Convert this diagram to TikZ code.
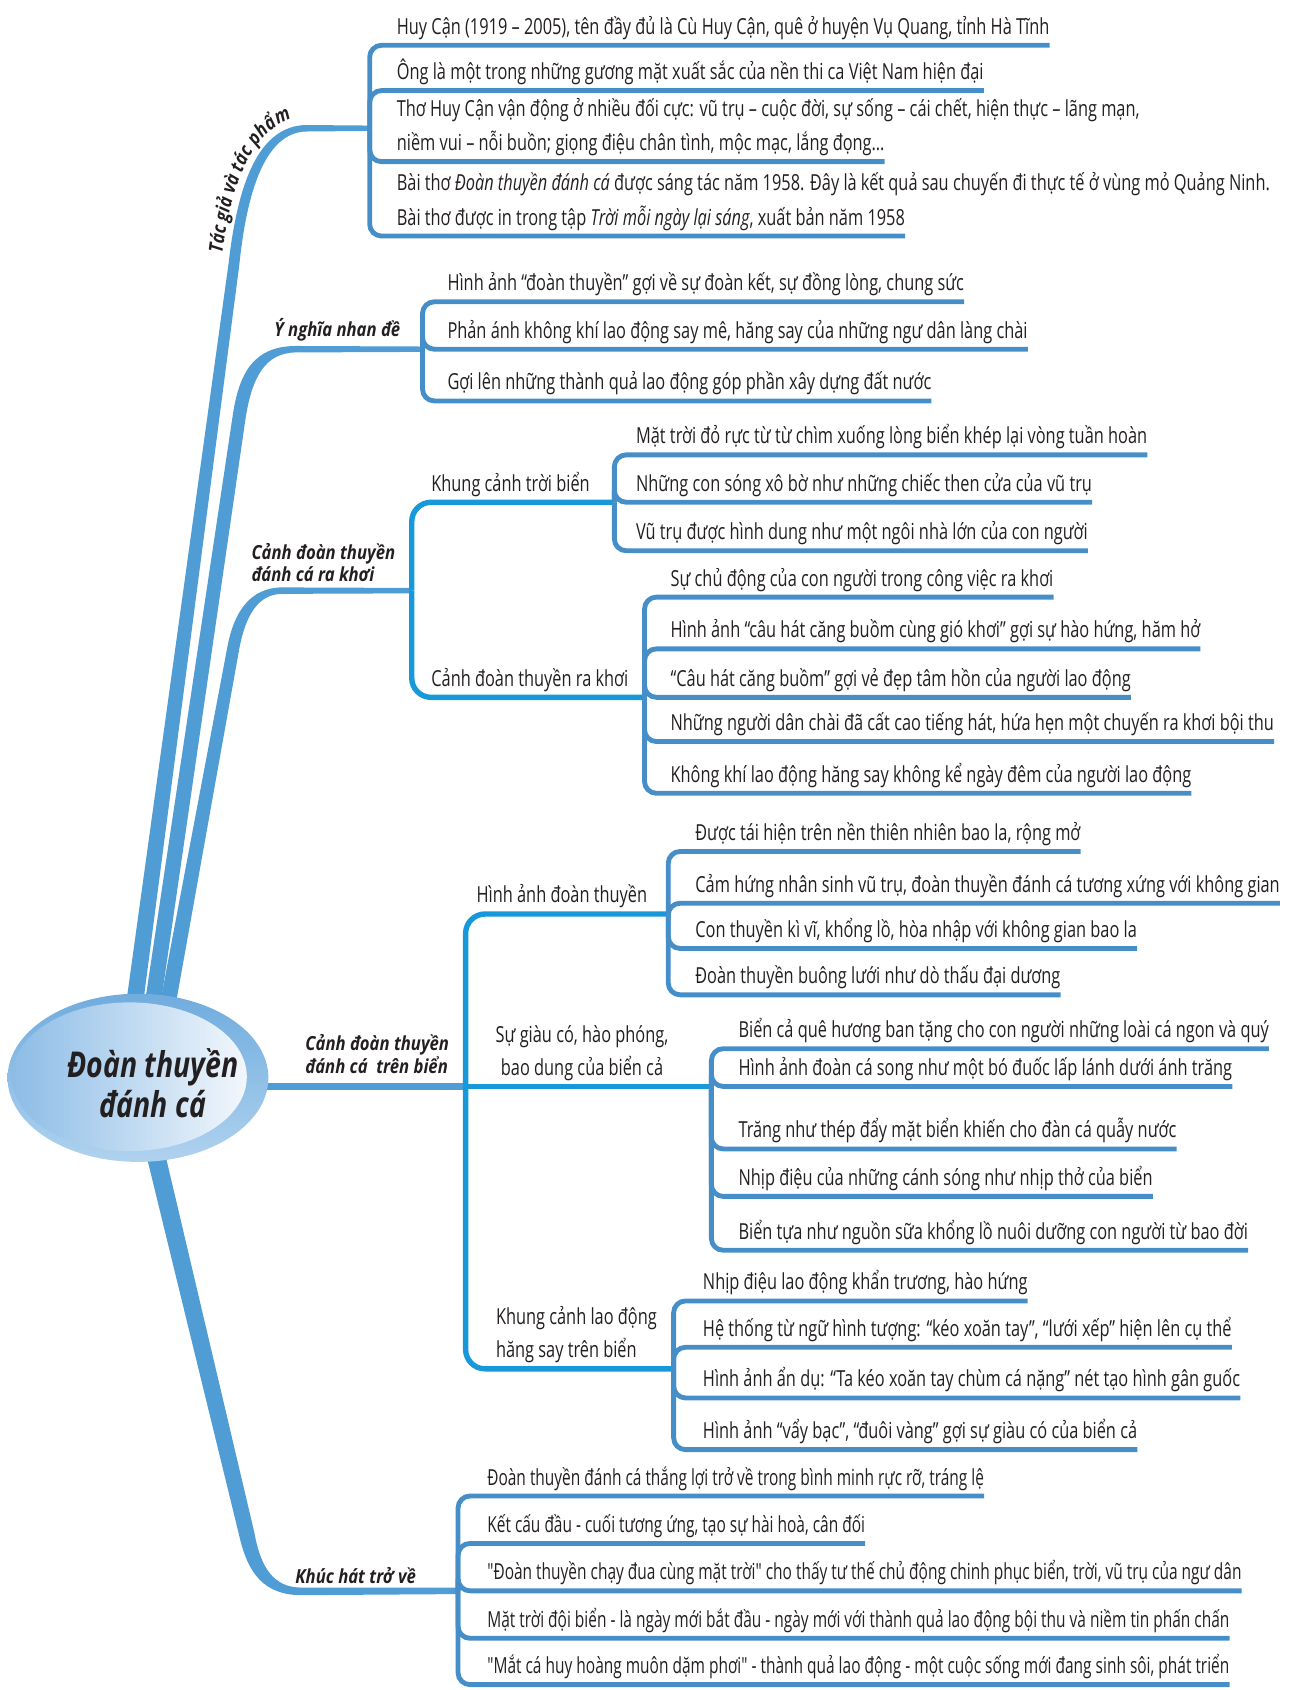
\documentclass[tikz,border=0pt]{standalone}
\usepackage{fontspec}
\setmainfont{Open Sans}[FakeStretch=0.74]
\newfontfamily\narrowfamily{Open Sans}[FakeStretch=0.70]
\newfontfamily\topicfamily{Open Sans}[FakeStretch=0.86]
\newfontfamily\rootfamily{Open Sans}[FakeStretch=0.80]
\usetikzlibrary{
    positioning,
    calc,
    shapes.geometric,
    decorations.text
}
\definecolor{trunkblue}{RGB}{79,157,212}
\definecolor{twigblue}{RGB}{70,142,200}
\definecolor{limbblue}{RGB}{22,152,218}
\definecolor{rimblue}{RGB}{112,172,222}
\definecolor{rimpale}{RGB}{175,210,238}
\definecolor{capblue}{RGB}{140,188,230}
\definecolor{capwhite}{RGB}{242,247,252}
\definecolor{inkblack}{RGB}{35,31,32}
\newcommand{\leaffont}{\fontsize{20.5}{31}\selectfont}
\newcommand{\narrowfont}{\narrowfamily\fontsize{20.5}{31}\selectfont}
\newcommand{\topicfont}{\topicfamily\fontsize{18}{20}\selectfont\bfseries\itshape}
\newcommand{\rootfont}{\rootfamily\fontsize{33}{37}\selectfont\bfseries\itshape}
\tikzset{
    leaf/.style = {anchor=south west, inner xsep=0pt, inner ysep=10pt, text depth=0pt,
                   font=\leaffont, text=inkblack},
    narrowleaf/.style = {leaf, font=\narrowfont},
    topic/.style = {inner sep=0pt, font=\topicfont, text=inkblack, align=left},
    twig/.style = {draw=twigblue, line width=4.5pt, rounded corners=11pt},
    limb/.style = {draw=limbblue, line width=5pt, rounded corners=18pt},
    trunk/.style = {fill=trunkblue},
}

\begin{document}
\begin{tikzpicture}[x=1pt,y=-1pt]
\useasboundingbox (0,0) rectangle (1198,1568);

\coordinate (rootc) at (128,1000);
\coordinate (jtac) at (343,119);
\coordinate (jy) at (392,324);
\coordinate (jra) at (382,548);
\coordinate (jtroi) at (570,466);
\coordinate (jkhoi) at (598,647);
\coordinate (jbien) at (432,1008);
\coordinate (jhinh) at (620,848);
\coordinate (jgiau) at (660,1008);
\coordinate (jlao) at (625,1270);
\coordinate (jve) at (425,1476);

% main branches
\fill[trunk] (113,960) -- (212,245) .. controls (220,175) and (238,116) .. (285,116)
    -- ($(jtac)+(0,-2.5)$) -- ($(jtac)+(0,2.5)$)
    -- (285,122) .. controls (246,122) and (229,178) .. (222,246) -- (129,960) -- cycle;
\fill[trunk] (130,960) -- (216,385) .. controls (222,345) and (236,321) .. (275,321)
    -- ($(jy)+(0,-2.5)$) -- ($(jy)+(0,2.5)$)
    -- (275,327) .. controls (246,327) and (234,350) .. (228,387) -- (145,960) -- cycle;
\fill[trunk] (143,960) -- (211,600) .. controls (217,568) and (232,545) .. (262,545)
    -- ($(jra)+(0,-2.5)$) -- ($(jra)+(0,2.5)$)
    -- (262,551) .. controls (240,551) and (228,570) .. (222,602) -- (158,960) -- cycle;
\fill[trunk] (128,1040) -- (222,1425) .. controls (230,1460) and (245,1480) .. (280,1480)
    -- ($(jve)+(0,3)$) -- ($(jve)+(0,-3)$)
    -- (280,1473) .. controls (254,1473) and (242,1455) .. (236,1422) -- (146,1040) -- cycle;
\draw[trunkblue, line width=6pt] (rootc |- jbien) -- (jbien);

\node[ellipse, minimum width=242pt, minimum height=156pt, inner sep=0pt,
      top color=rimblue, bottom color=rimpale] (root) at (rootc) {};
\node[ellipse, minimum width=218pt, minimum height=138pt, inner sep=0pt,
      left color=capblue, right color=capwhite] (rootcap) at (120,999) {};
\node[font=\rootfont, text=inkblack, align=center] (rootlabel) at (142,1005) {Đoàn thuyền\\đánh cá};

% Tac gia va tac pham
\path[decorate, decoration={text along path, text align=center, raise=2.5pt,
      text={|\topicfont\color{inkblack}|Tác giả và tác phẩm}}]
    (207,254) .. controls (214,174) and (236,110) .. (290,110);
\node[leaf] (tac1) at (368,42) {Huy Cận (1919 – 2005), tên đầy đủ là Cù Huy Cận, quê ở huyện Vụ Quang, tỉnh Hà Tĩnh};
\node[leaf] (tac2) at (368,84) {Ông là một trong những gương mặt xuất sắc của nền thi ca Việt Nam hiện đại};
\node[leaf] (tac3a) at (368,118) {Thơ Huy Cận vận động ở nhiều đối cực: vũ trụ – cuộc đời, sự sống – cái chết, hiện thực – lãng mạn,};
\node[leaf] (tac3) at (368,150) {niềm vui – nỗi buồn; giọng điệu chân tình, mộc mạc, lắng đọng\ldots};
\node[leaf] (tac4a) at (368,187) {Bài thơ \textit{Đoàn thuyền đánh cá} được sáng tác năm 1958. Đây là kết quả sau chuyến đi thực tế ở vùng mỏ Quảng Ninh.};
\node[leaf] (tac4) at (368,219) {Bài thơ được in trong tập \textit{Trời mỗi ngày lại sáng}, xuất bản năm 1958};
\draw[twig] (jtac) |- (tac1.south east);
\draw[twig] (jtac) |- (tac2.south east);
\draw[twig] (jtac) |- (tac3.south east);
\draw[twig] (jtac) |- (tac4.south east);

% Y nghia nhan de
\node[topic] (yngtopic) at (313,306) {Ý nghĩa nhan đề};
\node[leaf] (yng1) at (415,280) {Hình ảnh “đoàn thuyền” gợi về sự đoàn kết, sự đồng lòng, chung sức};
\node[leaf] (yng2) at (415,324) {Phản ánh không khí lao động say mê, hăng say của những ngư dân làng chài};
\node[leaf] (yng3) at (415,372) {Gợi lên những thành quả lao động góp phần xây dựng đất nước};
\draw[twig] (jy) |- (yng1.south east);
\draw[twig] (jy) |- (yng2.south east);
\draw[twig] (jy) |- (yng3.south east);

% Canh doan thuyen ra khoi
\node[topic] (ratopic) at (300,522) {Cảnh đoàn thuyền\\đánh cá ra khơi};
\draw[limb] (jra) |- (jtroi);
\draw[limb] (jra) |- (jkhoi);
\node[leaf] (troi) at (400,466) {Khung cảnh trời biển};
\node[leaf] (khoi) at (400,647) {Cảnh đoàn thuyền ra khơi};
\node[leaf] (troi1) at (590,422) {Mặt trời đỏ rực từ từ chìm xuống lòng biển khép lại vòng tuần hoàn};
\node[leaf] (troi2) at (590,466) {Những con sóng xô bờ như những chiếc then cửa của vũ trụ};
\node[leaf] (troi3) at (590,511) {Vũ trụ được hình dung như một ngôi nhà lớn của con người};
\draw[twig] (jtroi) |- (troi1.south east);
\draw[twig] (jtroi) |- (troi2.south east);
\draw[twig] (jtroi) |- (troi3.south east);
\node[leaf] (khoi1) at (622,554) {Sự chủ động của con người trong công việc ra khơi};
\node[leaf] (khoi2) at (622,602) {Hình ảnh “câu hát căng buồm cùng gió khơi” gợi sự hào hứng, hăm hở};
\node[leaf] (khoi3) at (622,647) {“Câu hát căng buồm” gợi vẻ đẹp tâm hồn của người lao động};
\node[leaf] (khoi4) at (622,688) {Những người dân chài đã cất cao tiếng hát, hứa hẹn một chuyến ra khơi bội thu};
\node[leaf] (khoi5) at (622,736) {Không khí lao động hăng say không kể ngày đêm của người lao động};
\draw[twig] (jkhoi) |- (khoi1.south east);
\draw[twig] (jkhoi) |- (khoi2.south east);
\draw[twig] (jkhoi) |- (khoi3.south east);
\draw[twig] (jkhoi) |- (khoi4.south east);
\draw[twig] (jkhoi) |- (khoi5.south east);

% Canh doan thuyen danh ca tren bien
\node[topic] (bientopic) at (350,978) {Cảnh đoàn thuyền\\đánh cá\ \ trên biển};
\draw[limb] (jbien) |- (jhinh);
\draw[limb] (jbien) -- (jgiau);
\draw[limb] (jbien) |- (jlao);
\node[leaf] (hinh) at (442,848) {Hình ảnh đoàn thuyền};
\node[leaf, anchor=south, align=center] (giau) at (540,1008) {Sự giàu có, hào phóng,\\bao dung của biển cả};
\node[leaf, align=left] (lao) at (460,1270) {Khung cảnh lao động\\hăng say trên biển};
\node[leaf] (hinh1) at (645,790) {Được tái hiện trên nền thiên nhiên bao la, rộng mở};
\node[leaf] (hinh2) at (645,838) {Cảm hứng nhân sinh vũ trụ, đoàn thuyền đánh cá tương xứng với không gian};
\node[leaf] (hinh3) at (645,880) {Con thuyền kì vĩ, khổng lồ, hòa nhập với không gian bao la};
\node[leaf] (hinh4) at (645,923) {Đoàn thuyền buông lưới như dò thấu đại dương};
\draw[twig] (jhinh) |- (hinh1.south east);
\draw[twig] (jhinh) |- (hinh2.south east);
\draw[twig] (jhinh) |- (hinh3.south east);
\draw[twig] (jhinh) |- (hinh4.south east);
\node[leaf] (giau1) at (685,973) {Biển cả quê hương ban tặng cho con người những loài cá ngon và quý};
\node[leaf] (giau2) at (685,1008) {Hình ảnh đoàn cá song như một bó đuốc lấp lánh dưới ánh trăng};
\node[leaf] (giau3) at (685,1066) {Trăng như thép đẩy mặt biển khiến cho đàn cá quẫy nước};
\node[leaf] (giau4) at (685,1110) {Nhịp điệu của những cánh sóng như nhịp thở của biển};
\node[leaf] (giau5) at (685,1160) {Biển tựa như nguồn sữa khổng lồ nuôi dưỡng con người từ bao đời};
\draw[twig] (jgiau) |- (giau1.south east);
\draw[twig] (jgiau) |- (giau2.south east);
\draw[twig] (jgiau) |- (giau3.south east);
\draw[twig] (jgiau) |- (giau4.south east);
\draw[twig] (jgiau) |- (giau5.south east);
\node[leaf] (lao1) at (652,1207) {Nhịp điệu lao động khẩn trương, hào hứng};
\node[leaf] (lao2) at (652,1250) {Hệ thống từ ngữ hình tượng: “kéo xoăn tay”, “lưới xếp” hiện lên cụ thể};
\node[leaf] (lao3) at (652,1297) {Hình ảnh ẩn dụ: “Ta kéo xoăn tay chùm cá nặng” nét tạo hình gân guốc};
\node[leaf] (lao4) at (652,1345) {Hình ảnh “vẩy bạc”, “đuôi vàng” gợi sự giàu có của biển cả};
\draw[twig] (jlao) |- (lao1.south east);
\draw[twig] (jlao) |- (lao2.south east);
\draw[twig] (jlao) |- (lao3.south east);
\draw[twig] (jlao) |- (lao4.south east);

% Khuc hat tro ve
\node[topic] (vetopic) at (330,1462) {Khúc hát trở về};
\node[narrowleaf] (ve1) at (452,1388) {Đoàn thuyền đánh cá thắng lợi trở về trong bình minh rực rỡ, tráng lệ};
\node[narrowleaf] (ve2) at (452,1432) {Kết cấu đầu - cuối tương ứng, tạo sự hài hoà, cân đối};
\node[narrowleaf] (ve3) at (452,1476) {"Đoàn thuyền chạy đua cùng mặt trời" cho thấy tư thế chủ động chinh phục biển, trời, vũ trụ của ngư dân};
\node[narrowleaf] (ve4) at (452,1520) {Mặt trời đội biển - là ngày mới bắt đầu - ngày mới với thành quả lao động bội thu và niềm tin phấn chấn};
\node[narrowleaf] (ve5) at (452,1563) {"Mắt cá huy hoàng muôn dặm phơi" - thành quả lao động - một cuộc sống mới đang sinh sôi, phát triển};
\draw[twig] (jve) |- (ve1.south east);
\draw[twig] (jve) |- (ve2.south east);
\draw[twig] (jve) |- (ve3.south east);
\draw[twig] (jve) |- (ve4.south east);
\draw[twig] (jve) |- (ve5.south east);
\end{tikzpicture}
\end{document}
